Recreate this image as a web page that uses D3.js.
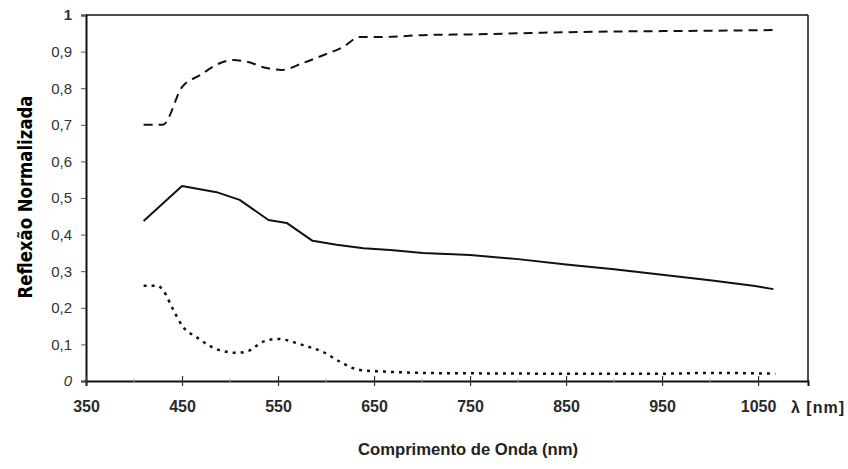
<!DOCTYPE html>
<html><head><meta charset="utf-8">
<script src="https://cdn.jsdelivr.net/npm/d3@7"></script>
<style>body{margin:0;background:#fff}svg{display:block}</style>
</head><body>
<svg id="c" width="848" height="469"></svg>
<script>
// Wavelength (nm) samples and normalized reflectance of the three curves
const wlUpper = [410, 430, 450, 469, 490, 503, 518, 538, 554, 576, 597, 618, 635, 659, 701, 750, 800, 850, 900, 950, 1000, 1068];
const upper   = [0.70, 0.70, 0.803, 0.836, 0.869, 0.877, 0.872, 0.855, 0.85, 0.869, 0.89, 0.913, 0.94, 0.94, 0.945, 0.947, 0.95, 0.953, 0.955, 0.956, 0.957, 0.959];
const wlMid   = [410, 450, 486, 510, 540, 559, 586, 611, 639, 667, 701, 750, 800, 850, 900, 950, 1000, 1045, 1066];
const middle  = [0.437, 0.533, 0.516, 0.495, 0.44, 0.432, 0.383, 0.372, 0.363, 0.358, 0.35, 0.344, 0.333, 0.318, 0.305, 0.29, 0.275, 0.26, 0.251];
const wlLow   = [410, 425, 430, 441, 451, 465, 486, 507, 519, 534, 549, 576, 597, 615, 635, 667, 701, 750, 850, 950, 1000, 1068];
const lower   = [0.26, 0.26, 0.249, 0.194, 0.148, 0.12, 0.087, 0.077, 0.082, 0.107, 0.115, 0.098, 0.079, 0.052, 0.03, 0.025, 0.022, 0.021, 0.02, 0.02, 0.022, 0.02];
const xTicks = [350, 450, 550, 650, 750, 850, 950, 1050];
const xMinor = [400, 500, 600, 700, 800, 900, 1000];
const yTicks = [0, 0.1, 0.2, 0.3, 0.4, 0.5, 0.6, 0.7, 0.8, 0.9, 1];
const yTickLabels = ["0", "0,1", "0,2", "0,3", "0,4", "0,5", "0,6", "0,7", "0,8", "0,9", "1"];

const svg = d3.select("#c");
const L = 86, R = 808, T = 15, B = 381;
const x = d3.scaleLinear().domain([350, 1102]).range([L, R]);
const y = d3.scaleLinear().domain([0, 1]).range([B, T]);

// frame top/right
svg.append("line").attr("x1", L).attr("x2", R).attr("y1", T).attr("y2", T).attr("stroke", "#111").attr("stroke-width", 1.5);
svg.append("line").attr("x1", R).attr("x2", R).attr("y1", T).attr("y2", B).attr("stroke", "#111").attr("stroke-width", 1.5);

// y axis
const gy = svg.append("g").attr("transform", `translate(${L},0)`)
  .call(d3.axisLeft(y).tickValues(yTicks).tickSize(5).tickPadding(9).tickFormat((d, i) => yTickLabels[i]));
gy.select(".domain").attr("stroke", "#111").attr("stroke-width", 2);
gy.selectAll(".tick line").attr("stroke", "#555").attr("stroke-width", 1);
gy.selectAll(".tick text").attr("font-family", "Liberation Sans, Arial, sans-serif").attr("font-size", 15).attr("fill", "#333")
  .attr("font-style", d => d === 0 ? "italic" : "normal").attr("font-weight", d => d === 1 ? "bold" : "normal");

// x axis
const gx = svg.append("g").attr("transform", `translate(0,${B})`)
  .call(d3.axisBottom(x).tickValues(xTicks).tickSize(5).tickPadding(15).tickFormat(d3.format("d")));
gx.select(".domain").attr("stroke", "#111").attr("stroke-width", 2);
gx.selectAll(".tick line").attr("y1", -5).attr("stroke", "#333").attr("stroke-width", 1.2);
gx.selectAll(".tick text").attr("font-family", "Liberation Sans, Arial, sans-serif").attr("font-size", 16)
  .attr("font-weight", "bold").attr("fill", "#2a2a2a");
svg.append("g").selectAll("line").data(xMinor).join("line")
  .attr("x1", d => x(d)).attr("x2", d => x(d)).attr("y1", B - 2).attr("y2", B + 2).attr("stroke", "#999");

// curves
const line = (wl, curve) => d3.line().x((d, i) => x(wl[i])).y(d => y(d)).curve(curve);
svg.append("path").datum(upper).attr("d", line(wlUpper, d3.curveMonotoneX)).attr("fill", "none").attr("stroke", "#111")
  .attr("stroke-width", 2).attr("stroke-dasharray", "9,6");
svg.append("path").datum(middle).attr("d", line(wlMid, d3.curveLinear)).attr("fill", "none").attr("stroke", "#111")
  .attr("stroke-width", 2).attr("stroke-linejoin", "round");
svg.append("path").datum(lower).attr("d", line(wlLow, d3.curveMonotoneX)).attr("fill", "none").attr("stroke", "#111")
  .attr("stroke-width", 2.5).attr("stroke-dasharray", "3,5");

// titles
svg.append("text").attr("transform", "translate(32,197) rotate(-90)").attr("text-anchor", "middle")
  .attr("font-family", "DejaVu Sans, sans-serif").attr("font-weight", "bold").attr("font-size", 20)
  .attr("textLength", 203).attr("lengthAdjust", "spacingAndGlyphs").attr("fill", "#000").text("Reflexão Normalizada");
svg.append("text").attr("x", 468).attr("y", 455).attr("text-anchor", "middle")
  .attr("font-family", "Liberation Sans, Arial, sans-serif").attr("font-weight", "bold").attr("font-size", 16)
  .attr("textLength", 220).attr("lengthAdjust", "spacingAndGlyphs").attr("fill", "#222").text("Comprimento de Onda  (nm)");
svg.append("text").attr("x", 791).attr("y", 413)
  .attr("font-family", "Liberation Sans, Arial, sans-serif").attr("font-weight", "bold").attr("font-size", 16)
  .attr("textLength", 53).attr("fill", "#222").text("λ [nm]");
</script>
</body></html>
